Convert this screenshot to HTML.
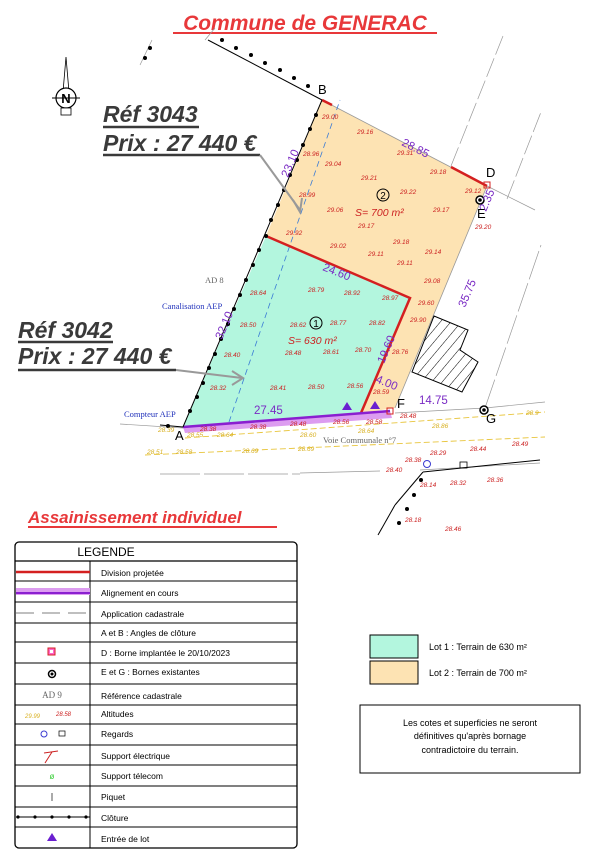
<!DOCTYPE html>
<html><head><meta charset="utf-8"><style>
html,body{margin:0;padding:0;background:#fff;}
svg{display:block;font-family:"Liberation Sans",sans-serif;}
</style></head><body>
<svg width="615" height="859" viewBox="0 0 615 859" xmlns="http://www.w3.org/2000/svg">
<defs>
<pattern id="hatch" width="8" height="8" patternUnits="userSpaceOnUse" patternTransform="rotate(40)">
<line x1="0" y1="0" x2="0" y2="8" stroke="#000" stroke-width="1"/>
</pattern>
</defs>
<text x="305" y="30" text-anchor="middle" font-size="21" font-weight="bold" font-style="italic" fill="#e8383a">Commune de GENERAC</text>
<line x1="173" y1="33" x2="437" y2="33" stroke="#e8383a" stroke-width="2"/>

<polygon points="66,57 63,92 69,92" fill="#fff" stroke="#000" stroke-width="0.8"/>
<circle cx="66" cy="98" r="10" fill="#fff" stroke="#000" stroke-width="1.2"/>
<text x="66" y="103" text-anchor="middle" font-size="13" font-weight="bold">N</text>
<line x1="52" y1="98" x2="80" y2="98" stroke="#000"/>
<rect x="61" y="108" width="10" height="7" fill="#fff" stroke="#000" stroke-width="0.8"/>

<g stroke="#999" stroke-width="0.7" fill="none">
<line x1="451" y1="166" x2="503" y2="36" stroke-dasharray="20,4"/>
<line x1="507" y1="199" x2="541" y2="112" stroke-dasharray="20,4"/>
<line x1="487" y1="186" x2="535" y2="210"/>
<line x1="485" y1="408" x2="541" y2="245" stroke-dasharray="30,4"/>
<line x1="395" y1="413" x2="485" y2="408"/>
<line x1="485" y1="408" x2="545" y2="402"/>
<line x1="120" y1="424" x2="183" y2="428"/>
<line x1="160" y1="474" x2="300" y2="474" stroke-dasharray="40,4"/>
<line x1="300" y1="473" x2="380" y2="471"/>
<line x1="420" y1="470" x2="540" y2="463"/>
<line x1="205" y1="40" x2="215" y2="28"/>
<line x1="140" y1="65" x2="152" y2="40"/>
</g>
<g stroke="#e8c53c" stroke-width="0.9" fill="none" stroke-dasharray="6,3">
<line x1="185" y1="438" x2="545" y2="412"/>
<line x1="145" y1="455" x2="545" y2="437"/>
</g>

<polygon points="322,100 487,186 395,408 361,413 410,298 266,236" fill="#fde3b3"/>
<polygon points="266,236 410,298 361,413 183,427" fill="#b3f6de"/>
<polygon points="183,427 390,411 392,418 185,433" fill="#dc9cf0"/>
<line x1="322" y1="100" x2="487" y2="186" stroke="#999" stroke-width="0.8"/>
<line x1="487" y1="186" x2="395" y2="408" stroke="#999" stroke-width="0.8"/>
<line x1="229" y1="422" x2="340" y2="100" stroke="#3a7bd5" stroke-width="0.8" stroke-dasharray="6,4"/>

<polygon points="434,316 468,330 460,350 478,362 462,392 412,372" fill="url(#hatch)" stroke="#000" stroke-width="1"/>

<g stroke="#d42020" stroke-width="2.5" fill="none">
<polyline points="266,236 410,298 361,413"/>
<line x1="322" y1="100" x2="332" y2="105"/>
<line x1="451" y1="167" x2="487" y2="186"/>
</g>
<line x1="183" y1="427" x2="390" y2="411" stroke="#8a1fd0" stroke-width="2.5"/>

<g stroke="#000" stroke-width="1">
<line x1="183" y1="427" x2="322" y2="100"/>
<line x1="208" y1="40" x2="322" y2="100"/>
<line x1="395" y1="505" x2="423" y2="472"/>
<line x1="423" y1="472" x2="540" y2="460"/>
<line x1="378" y1="535" x2="395" y2="505"/>
<line x1="160" y1="425" x2="183" y2="427"/>
</g>
<g fill="#000">
<circle cx="222" cy="40" r="2"/><circle cx="236" cy="48" r="2"/><circle cx="251" cy="55" r="2"/><circle cx="265" cy="63" r="2"/><circle cx="280" cy="70" r="2"/><circle cx="294" cy="78" r="2"/><circle cx="308" cy="86" r="2"/>
<circle cx="316" cy="115" r="2"/><circle cx="310" cy="129" r="2"/><circle cx="303" cy="145" r="2"/><circle cx="297" cy="160" r="2"/><circle cx="290" cy="175" r="2"/><circle cx="284" cy="190" r="2"/><circle cx="278" cy="205" r="2"/><circle cx="271" cy="220" r="2"/><circle cx="266" cy="236" r="2"/><circle cx="259" cy="250" r="2"/><circle cx="253" cy="265" r="2"/><circle cx="246" cy="280" r="2"/><circle cx="240" cy="295" r="2"/><circle cx="234" cy="309" r="2"/><circle cx="228" cy="324" r="2"/><circle cx="221" cy="339" r="2"/><circle cx="215" cy="354" r="2"/><circle cx="209" cy="368" r="2"/><circle cx="203" cy="383" r="2"/><circle cx="197" cy="397" r="2"/><circle cx="190" cy="411" r="2"/><circle cx="168" cy="426" r="2"/>
<circle cx="421" cy="480" r="2"/><circle cx="414" cy="495" r="2"/><circle cx="407" cy="509" r="2"/><circle cx="399" cy="523" r="2"/><circle cx="150" cy="48" r="2"/><circle cx="145" cy="58" r="2"/>
</g>

<circle cx="480" cy="200" r="4" fill="#fff" stroke="#000" stroke-width="1.5"/><circle cx="480" cy="200" r="1.8" fill="#000"/>
<circle cx="484" cy="410" r="4" fill="#fff" stroke="#000" stroke-width="1.5"/><circle cx="484" cy="410" r="1.8" fill="#000"/>
<rect x="484" y="182" width="6" height="6" fill="none" stroke="#d42020"/>
<rect x="387" y="408" width="6" height="6" fill="none" stroke="#d42020"/>
<polygon points="347,402 342,410 352,410" fill="#6a1fd0"/>
<polygon points="375,401 370,409 380,409" fill="#6a1fd0"/>
<circle cx="427" cy="464" r="3.5" fill="none" stroke="#3a3ad0"/>
<rect x="460" y="462" width="7" height="6" fill="none" stroke="#000" stroke-width="0.8"/>

<g font-size="13" fill="#000">
<text x="318" y="94">B</text><text x="486" y="177">D</text><text x="477" y="218">E</text>
<text x="397" y="408">F</text><text x="486" y="423">G</text><text x="175" y="440">A</text>
</g>
<g font-size="11.5" fill="#7a2bc4">
<text transform="translate(401,145) rotate(27)">28.85</text>
<text transform="translate(288,178) rotate(-67)">23.10</text>
<text transform="translate(322,270) rotate(22)">24.60</text>
<text transform="translate(222,340) rotate(-67)">32.10</text>
<text transform="translate(384,364) rotate(-67)">19.60</text>
<text transform="translate(375,382) rotate(22)">4.00</text>
<text transform="translate(465,308) rotate(-67)">35.75</text>
<text transform="translate(486,212) rotate(-67)">2.35</text>
<text x="254" y="414">27.45</text>
<text x="419" y="404">14.75</text>
</g>
<circle cx="383" cy="195" r="6" fill="none" stroke="#000"/><text x="383" y="199" font-size="10" text-anchor="middle">2</text>
<circle cx="316" cy="323" r="6" fill="none" stroke="#000"/><text x="316" y="327" font-size="10" text-anchor="middle">1</text>
<text x="355" y="216" font-size="10.5" font-style="italic" fill="#c22">S=  700 m²</text>
<text x="288" y="344" font-size="10.5" font-style="italic" fill="#c22">S=  630 m²</text>

<g font-size="6.5" font-style="italic" fill="#c22">
<text x="322" y="119">29.00</text><text x="357" y="134">29.16</text><text x="397" y="155">29.31</text><text x="430" y="174">29.18</text><text x="303" y="156">28.96</text><text x="325" y="166">29.04</text><text x="361" y="180">29.21</text><text x="400" y="194">29.22</text><text x="433" y="212">29.17</text><text x="465" y="193">29.12</text><text x="475" y="229">29.20</text><text x="299" y="197">28.99</text><text x="327" y="212">29.06</text><text x="358" y="228">29.17</text><text x="286" y="235">29.92</text><text x="330" y="248">29.02</text><text x="368" y="256">29.11</text><text x="393" y="244">29.18</text><text x="425" y="254">29.14</text><text x="397" y="265">29.11</text><text x="424" y="283">29.08</text><text x="418" y="305">29.60</text><text x="410" y="322">29.90</text><text x="392" y="354">28.76</text>
<text x="250" y="295">28.64</text><text x="308" y="292">28.79</text><text x="344" y="295">28.92</text><text x="382" y="300">28.97</text><text x="240" y="327">28.50</text><text x="290" y="327">28.62</text><text x="330" y="325">28.77</text><text x="369" y="325">28.82</text><text x="224" y="357">28.40</text><text x="285" y="355">28.48</text><text x="323" y="354">28.61</text><text x="355" y="352">28.70</text><text x="210" y="390">28.32</text><text x="270" y="390">28.41</text><text x="308" y="389">28.50</text><text x="347" y="388">28.56</text><text x="373" y="394">28.59</text>
<text x="200" y="431">28.38</text><text x="250" y="429">28.38</text><text x="290" y="426">28.48</text><text x="333" y="424">28.56</text><text x="366" y="424">28.58</text><text x="400" y="418">28.48</text><text x="405" y="462">28.38</text><text x="430" y="455">28.29</text><text x="470" y="451">28.44</text><text x="512" y="446">28.49</text><text x="386" y="472">28.40</text><text x="420" y="487">28.14</text><text x="450" y="485">28.32</text><text x="487" y="482">28.36</text><text x="405" y="522">28.18</text><text x="445" y="531">28.46</text>
</g>
<g font-size="6.5" font-style="italic" fill="#d8b020">
<text x="158" y="432">28.39</text><text x="187" y="437">28.55</text><text x="217" y="437">28.64</text><text x="300" y="437">28.60</text><text x="358" y="433">28.64</text><text x="432" y="428">28.86</text><text x="526" y="415">28.9</text><text x="147" y="454">28.51</text><text x="176" y="454">28.58</text><text x="242" y="453">28.69</text><text x="298" y="451">28.69</text>
</g>
<g font-family="Liberation Serif,serif" font-size="8.5">
<text x="205" y="283" fill="#666">AD 8</text>
<text x="162" y="309" fill="#2233bb">Canalisation AEP</text>
<text x="124" y="417" fill="#2233bb">Compteur AEP</text>
<text x="323" y="443" fill="#666">Voie Communale n°7</text>
</g>

<g font-size="23" font-weight="bold" font-style="italic" fill="#3a3a3a">
<text x="103" y="122">Réf 3043</text><text x="103" y="151">Prix : 27 440 €</text>
<text x="18" y="338">Réf 3042</text><text x="18" y="364">Prix : 27 440 €</text>
</g>
<g stroke="#3a3a3a" stroke-width="2.5">
<line x1="103" y1="127" x2="199" y2="127"/><line x1="103" y1="155" x2="260" y2="155"/>
<line x1="18" y1="342" x2="113" y2="342"/><line x1="18" y1="370" x2="176" y2="370"/>
</g>
<g stroke="#999" stroke-width="2" fill="none">
<polyline points="260,155 300,210"/><polyline points="293,200 300,212 302,198"/>
<polyline points="176,370 242,378"/><polyline points="232,371 243,378 232,385"/>
</g>

<text x="28" y="523" font-size="17" font-weight="bold" font-style="italic" fill="#e8383a">Assainissement individuel</text>
<line x1="28" y1="527" x2="277" y2="527" stroke="#e8383a" stroke-width="2"/>

<rect x="15" y="542" width="282" height="306" rx="4" fill="#fff" stroke="#000" stroke-width="1.3"/>
<line x1="15" y1="561" x2="297" y2="561" stroke="#000" stroke-width="1.2"/>
<line x1="90" y1="561" x2="90" y2="848" stroke="#000"/>
<g stroke="#000" stroke-width="1">
<line x1="15" y1="581" x2="297" y2="581"/><line x1="15" y1="602" x2="297" y2="602"/><line x1="15" y1="623" x2="297" y2="623"/><line x1="15" y1="642" x2="297" y2="642"/><line x1="15" y1="663" x2="297" y2="663"/><line x1="15" y1="684" x2="297" y2="684"/><line x1="15" y1="705" x2="297" y2="705"/><line x1="15" y1="724" x2="297" y2="724"/><line x1="15" y1="745" x2="297" y2="745"/><line x1="15" y1="765" x2="297" y2="765"/><line x1="15" y1="786" x2="297" y2="786"/><line x1="15" y1="807" x2="297" y2="807"/><line x1="15" y1="827" x2="297" y2="827"/>
</g>
<text x="106" y="556" font-size="12" text-anchor="middle">LEGENDE</text>
<g font-size="8.5" fill="#000">
<text x="101" y="576">Division projetée</text><text x="101" y="596">Alignement en cours</text><text x="101" y="617">Application cadastrale</text><text x="101" y="636">A et B : Angles de clôture</text><text x="101" y="656">D : Borne implantée le 20/10/2023</text><text x="101" y="675">E et G : Bornes existantes</text><text x="101" y="699">Référence cadastrale</text><text x="101" y="717">Altitudes</text><text x="101" y="737">Regards</text><text x="101" y="759">Support électrique</text><text x="101" y="779">Support télecom</text><text x="101" y="800">Piquet</text><text x="101" y="821">Clôture</text><text x="101" y="842">Entrée de lot</text>
</g>
<line x1="16" y1="572" x2="90" y2="572" stroke="#d42020" stroke-width="2.5"/>
<rect x="16" y="588" width="74" height="7" fill="#dc9cf0"/><line x1="16" y1="593" x2="90" y2="593" stroke="#8a1fd0" stroke-width="2"/>
<line x1="16" y1="613" x2="90" y2="613" stroke="#555" stroke-width="0.8" stroke-dasharray="18,8"/>
<rect x="48" y="648" width="7" height="7" fill="#f6c" stroke="#d42020"/><rect x="50" y="650" width="3" height="3" fill="#fff"/>
<circle cx="52" cy="674" r="3.5" fill="#fff" stroke="#000" stroke-width="1.5"/><circle cx="52" cy="674" r="1.5" fill="#000"/>
<text x="52" y="698" font-family="Liberation Serif,serif" font-size="9" fill="#666" text-anchor="middle">AD 9</text>
<text x="25" y="718" font-size="6" font-style="italic" fill="#d8b020">29.99</text><text x="56" y="716" font-size="6" font-style="italic" fill="#c22">28.58</text>
<circle cx="44" cy="734" r="3" fill="none" stroke="#3a3ad0"/><rect x="59" y="731" width="6" height="5" fill="none" stroke="#000" stroke-width="0.7"/>
<path d="M44 753 L58 751 M52 752 L45 763" stroke="#c22" fill="none"/>
<text x="52" y="779" font-size="8" fill="#3c3" text-anchor="middle">ø</text>
<path d="M52 793 L52 801" stroke="#555"/>
<line x1="16" y1="817" x2="90" y2="817" stroke="#000"/>
<g fill="#000"><circle cx="18" cy="817" r="1.6"/><circle cx="35" cy="817" r="1.6"/><circle cx="52" cy="817" r="1.6"/><circle cx="69" cy="817" r="1.6"/><circle cx="86" cy="817" r="1.6"/></g>
<polygon points="52,833 47,841 57,841" fill="#6a1fd0"/>

<rect x="370" y="635" width="48" height="23" fill="#b3f6de" stroke="#000"/>
<rect x="370" y="661" width="48" height="23" fill="#fde3b3" stroke="#000"/>
<text x="429" y="650" font-size="9">Lot 1 : Terrain de 630 m²</text>
<text x="429" y="676" font-size="9">Lot 2 : Terrain de 700 m²</text>
<rect x="360" y="705" width="220" height="68" fill="#fff" stroke="#000"/>
<g font-size="9" text-anchor="middle"><text x="470" y="726">Les cotes et superficies ne seront</text><text x="470" y="739">définitives qu'après bornage</text><text x="470" y="753">contradictoire du terrain.</text></g>
</svg>
</body></html>
